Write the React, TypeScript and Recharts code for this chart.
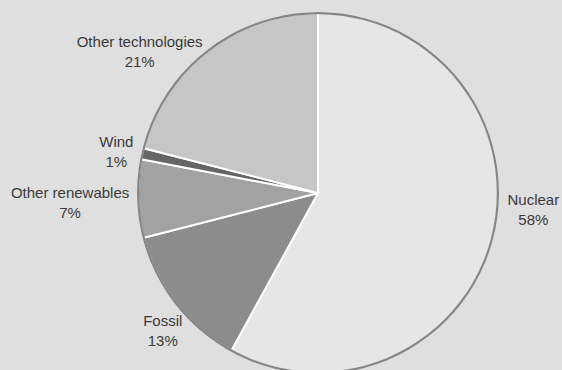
import React from 'react';
import { PieChart, Pie, Cell } from 'recharts';

// Electricity generation shares (%)
const sources = ['Nuclear', 'Fossil', 'Other renewables', 'Wind', 'Other technologies'];
const shares = [58, 13, 7, 1, 21];
const sliceColors = ['#e6e6e6', '#8c8c8c', '#a2a2a2', '#666666', '#c6c6c6'];

const data = sources.map((name, i) => ({ name, value: shares[i] }));
const ring = [{ name: 'outline', value: 1 }];

const RADIAN = Math.PI / 180;

// where each label sits relative to the slice's mid-angle point on the rim
const labelNudge: Record<string, [number, number]> = {
  Nuclear: [41, -28],
  Fossil: [-13, 27],
  'Other renewables': [-68, 4],
  Wind: [-26, -2],
  'Other technologies': [-68, 1],
};

const SliceLabel = (props: any) => {
  const { cx, cy, midAngle, outerRadius, name, value } = props;
  const px = cx + outerRadius * Math.cos(-midAngle * RADIAN);
  const py = cy + outerRadius * Math.sin(-midAngle * RADIAN);
  const [dx, dy] = labelNudge[name] || [0, 0];
  const x = px + dx;
  const y = py + dy;
  return (
    <text
      x={x}
      y={y}
      textAnchor="middle"
      fill="#3a3a3a"
      fontSize={15}
      fontFamily="'Liberation Sans', Arial, sans-serif"
    >
      <tspan x={x} y={y - 10} dominantBaseline="central">{name}</tspan>
      <tspan x={x} y={y + 10} dominantBaseline="central">{`${value}%`}</tspan>
    </text>
  );
};

export default function App() {
  return (
    <div style={{ position: 'fixed', left: 0, top: 0, width: 562, height: 370, background: '#dfdfdf' }}>
      <PieChart width={562} height={370} margin={{ top: 0, right: 0, bottom: 0, left: 0 }}>
        <Pie
          data={data}
          dataKey="value"
          nameKey="name"
          cx={318}
          cy={193}
          outerRadius={180}
          startAngle={90}
          endAngle={-270}
          stroke="#ffffff"
          strokeWidth={2}
          label={SliceLabel}
          labelLine={false}
          isAnimationActive={false}
        >
          {data.map((entry, i) => (
            <Cell key={`slice-${entry.name}`} fill={sliceColors[i]} />
          ))}
        </Pie>
        <Pie
          data={ring}
          dataKey="value"
          cx={318}
          cy={193}
          innerRadius={178.8}
          outerRadius={181}
          startAngle={90}
          endAngle={-270}
          fill="#858585"
          stroke="none"
          isAnimationActive={false}
        />
      </PieChart>
    </div>
  );
}
